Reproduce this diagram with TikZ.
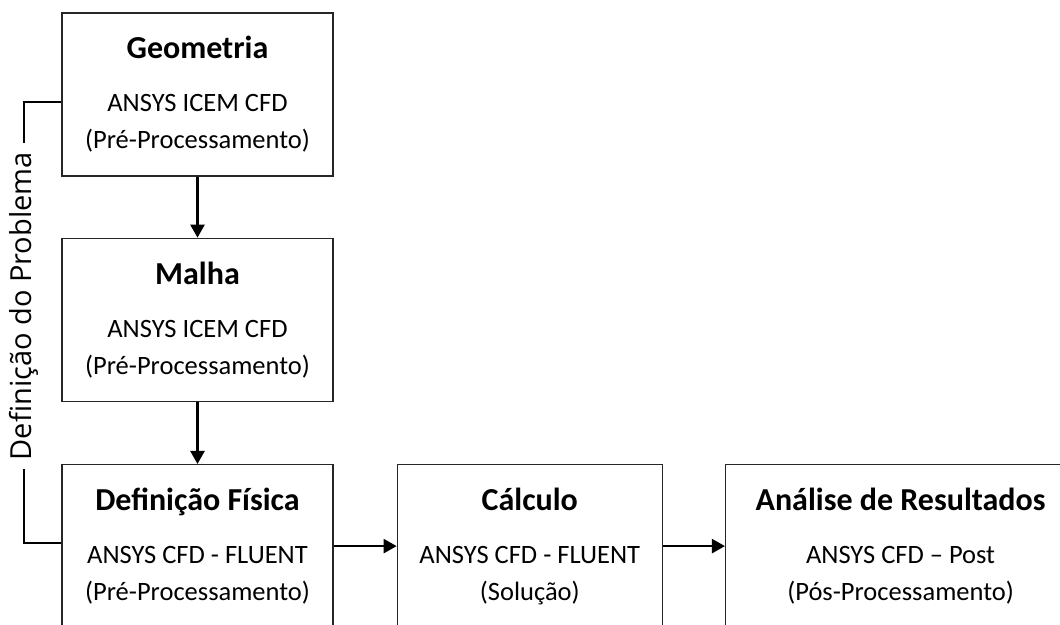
\documentclass[tikz,border=0pt]{standalone}
\usepackage{fontspec}
\setmainfont{Carlito}
\newfontfamily\sidefont{Open Sans}
\usepackage{tikz}
\usetikzlibrary{arrows.meta, positioning}

\begin{document}
\begin{tikzpicture}[
    x=1pt, y=-1pt,
    font=\fontsize{26.5}{37}\selectfont,
    stage/.style={draw=black!85, line width=1.3pt, minimum width=271pt, minimum height=163pt, align=center, inner sep=0pt},
    arr/.style={-{Triangle[length=13pt, width=14pt]}, line width=2.4pt},
    brk/.style={line width=1.6pt}
]
\useasboundingbox (0,0) rectangle (1060,624);
\clip (0,0) rectangle (1060,624);

% Pre-processing column
\node[stage] (geo) at (197.5,94.5) {{\bfseries\fontsize{32}{37}\selectfont Geometria}\\[16pt]ANSYS ICEM CFD\\(Pré-Processamento)};
\node[stage, below=61pt of geo] (malha) {{\bfseries\fontsize{32}{37}\selectfont Malha}\\[16pt]ANSYS ICEM CFD\\(Pré-Processamento)};
\node[stage, below=62pt of malha] (fis) {{\bfseries\fontsize{32}{37}\selectfont Definição Física}\\[16pt]ANSYS CFD - FLUENT\\(Pré-Processamento)};

% Solver and post
\node[stage, right=63pt of fis, minimum width=265pt] (calc) {{\bfseries\fontsize{32}{37}\selectfont Cálculo}\\[16pt]ANSYS CFD - FLUENT\\(Solução)};
\node[stage, right=62pt of calc, minimum width=350pt] (ana) {{\bfseries\fontsize{32}{37}\selectfont Análise de Resultados}\\[16pt]ANSYS CFD – Post\\(Pós-Processamento)};

% Arrows
\draw[arr] (geo) -- (malha);
\draw[arr] (malha) -- (fis);
\draw[arr] (fis) -- (calc);
\draw[arr] (calc) -- (ana);

% Bracket
\coordinate (bt) at (24,102);
\coordinate (bb) at (24,543);
\draw[brk] (geo.west |- bt) -- (bt) -- node[pos=0.463, rotate=90, fill=white, inner xsep=9pt, inner ysep=2pt, font=\sidefont\fontsize{29}{32}\selectfont] (dprob) {Definição do Problema} (bb) -- (fis.west |- bb);

\end{tikzpicture}
\end{document}
